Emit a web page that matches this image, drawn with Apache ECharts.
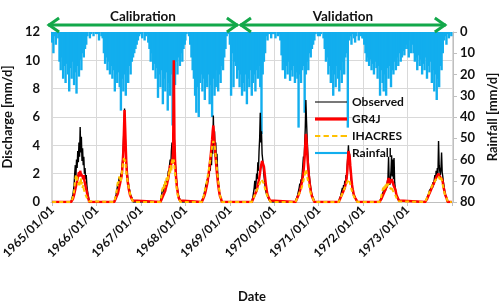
<!DOCTYPE html>
<html>
<head>
<meta charset="utf-8">
<script src="https://cdn.jsdelivr.net/npm/echarts@6/dist/echarts.min.js"></script>
<style>html,body{margin:0;padding:0;background:#fff}#c{width:500px;height:307px}</style>
</head>
<body>
<div id="c"></div>
<script>
// ---- Rainfall (mm/d), one value every 10 days from 1 Jan of each year ----
const rain1965 = [5,10,2,6,1,3,14,18,12,22,16,24,15,20,28,17,22,14,25,19,29,16,21,13,18,10,12,8,6,2,0,3,1,0,2,0,1];
const rain1966 = [0,1,4,0,2,3,10,15,12,18,14,20,16,22,18,28,20,24,19,26,37,22,28,20,30,18,24,16,20,14,12,10,8,6,4,2,1];
const rain1967 = [1,3,0,4,2,1,5,8,14,10,18,15,22,17,31,20,26,18,34,22,28,19,37,24,30,20,44,18,25,14,20,12,16,10,14,8,6];
const rain1968 = [4,1,0,2,6,12,18,22,30,38,26,40,24,20,28,22,32,24,26,20,34,25,40,22,30,26,18,28,20,24,16,18,12,8,2,0,1];
const rain1969 = [6,30,10,26,14,16,22,18,26,20,30,24,28,20,34,22,26,18,30,24,20,28,18,22,16,26,48,20,14,10,2,4,1,0,3,1,0];
const rain1970 = [1,3,0,2,1,4,11,18,14,22,16,20,14,23,18,21,16,24,19,22,45,20,24,18,16,38,20,14,18,10,12,8,6,4,1,0,2];
const rain1971 = [0,2,1,0,3,8,14,12,20,16,24,18,30,20,26,16,22,28,18,24,14,20,12,10,45,4,2,6,1,3,5,2,0,4,1,2,3];
const rain1972 = [3,6,10,14,12,16,13,18,15,20,14,17,22,16,30,18,24,28,20,30,17,22,16,26,18,20,14,18,12,16,10,14,12,9,11,8,6];
const rain1973 = [8,12,4,10,6,10,14,12,18,11,16,13,20,15,18,12,22,16,19,14,24,18,28,20,32,22,26,16,18,10,4,2,6,1,3,0,2];
const rainYears = [rain1965,rain1966,rain1967,rain1968,rain1969,rain1970,rain1971,rain1972,rain1973];

// ---- Discharge (mm/d): wet-season windows, one value every 5 days from the window start ----
const years = [1965,1966,1967,1968,1969,1970,1971,1972,1973];
const windowStartDay = [160,150,165,140,185,180,170,140,150];

const obs1965 = [0.2,0.3,0.5,0.8,1.2,2.0,2.6,1.8,3.0,2.4,3.6,2.8,4.2,3.2,5.3,3.5,4.6,2.9,3.8,2.6,3.2,2.0,2.4,1.6,1.9,1.2,0.8,0.5,0.3];
const obs1966 = [0.2,0.3,0.5,0.8,1.0,1.4,1.2,1.7,1.3,1.6,2.0,1.8,2.6,3.0,4.0,5.2,6.6,4.8,3.6,2.8,2.2,1.8,1.4,1.1,0.9,0.7,0.5,0.4,0.3,0.2];
const obs1967 = [0.3,0.5,0.8,1.0,0.7,1.2,0.9,1.4,1.1,1.6,1.3,1.8,2.2,1.9,2.6,3.0,2.4,3.6,4.2,3.4,4.9,3.8,4.4,3.0,2.4,1.8,1.3,0.9,0.6,0.4,0.3,0.2];
const obs1968 = [0.2,0.3,0.4,0.6,0.8,1.0,1.3,1.1,1.6,1.4,2.0,1.8,2.8,2.2,3.5,2.6,4.2,3.4,6.1,4.0,5.0,3.2,4.2,2.8,3.4,2.2,1.6,1.1,0.7,0.5,0.3,0.2];
const obs1969 = [0.2,0.4,0.7,1.0,1.5,0.9,1.3,2.0,1.6,2.8,2.2,3.6,4.5,6.3,4.2,5.0,3.4,3.0,2.4,1.9,1.5,1.1,0.8,0.6,0.5,0.4,0.3,0.2,0.15,0.1];
const obs1970 = [0.2,0.3,0.4,0.6,0.8,1.0,1.3,1.1,1.6,1.4,2.0,2.6,3.2,2.8,4.0,5.2,7.2,5.8,4.6,3.6,2.8,2.2,1.7,1.3,1.0,0.7,0.5,0.4,0.3,0.2];
const obs1971 = [0.2,0.3,0.4,0.6,0.8,1.0,0.8,1.2,1.0,1.5,1.3,1.9,1.6,2.6,3.2,4.0,3.0,3.4,2.4,1.8,1.4,1.1,0.8,0.6,0.5,0.4,0.3,0.2,0.15,0.1];
const obs1972 = [0.1,0.2,0.3,0.4,0.6,0.5,0.8,0.7,1.0,0.8,1.2,1.0,1.4,1.7,3.2,1.5,1.2,1.6,2.2,3.3,1.8,3.0,1.6,3.1,1.4,1.0,0.7,0.5,0.4,0.3,0.2,0.1];
const obs1973 = [0.1,0.2,0.3,0.4,0.5,0.6,0.8,0.7,0.9,1.0,1.2,1.0,1.4,1.2,1.6,1.9,1.5,2.2,1.8,2.4,2.0,4.3,2.6,2.2,1.9,2.4,3.5,2.1,1.8,1.4,1.1,0.8,0.6,0.4,0.3,0.2];

const gr1965 = [0.05,0.1,0.2,0.3,0.5,0.7,0.9,1.1,1.3,1.5,1.7,1.9,2.1,1.8,2.2,2.0,1.9,2.1,1.8,1.6,1.9,1.5,1.3,1.1,0.9,0.7,0.5,0.3,0.2];
const gr1966 = [0.1,0.2,0.3,0.4,0.5,0.6,0.8,1.0,1.2,1.4,1.6,1.8,2.2,2.8,3.6,5.0,6.5,5.2,3.8,2.6,2.0,1.5,1.2,0.9,0.7,0.5,0.4,0.3,0.2,0.1];
const gr1967 = [0.1,0.2,0.3,0.4,0.5,0.6,0.7,0.8,1.0,1.1,1.3,1.5,1.7,2.0,2.3,2.6,2.4,2.8,3.0,2.7,4.0,10.0,4.5,3.0,2.2,1.6,1.1,0.8,0.5,0.3,0.2,0.1];
const gr1968 = [0.1,0.2,0.3,0.4,0.5,0.7,0.9,1.1,1.3,1.6,1.9,2.2,2.6,3.0,3.4,3.9,4.4,5.0,5.4,4.8,4.2,3.6,3.0,2.5,2.0,1.6,1.2,0.9,0.6,0.4,0.3,0.2];
const gr1969 = [0.1,0.2,0.3,0.4,0.5,0.6,0.7,0.8,1.0,1.2,1.4,1.6,1.9,2.2,2.5,2.7,2.9,3.0,2.8,2.5,2.1,1.7,1.3,1.0,0.7,0.5,0.4,0.3,0.2,0.1];
const gr1970 = [0.1,0.2,0.3,0.4,0.5,0.6,0.7,0.9,1.1,1.3,1.5,1.8,2.1,2.6,3.2,4.0,4.8,4.4,3.6,2.9,2.3,1.8,1.4,1.1,0.8,0.6,0.4,0.3,0.2,0.1];
const gr1971 = [0.1,0.2,0.3,0.4,0.5,0.6,0.7,0.8,0.9,1.0,1.2,1.4,1.7,2.1,2.8,3.6,3.7,3.2,2.6,2.1,1.6,1.2,0.9,0.7,0.5,0.4,0.3,0.2,0.15,0.1];
const gr1972 = [0.05,0.1,0.2,0.3,0.4,0.5,0.6,0.7,0.8,0.9,1.0,1.1,1.3,1.5,1.7,1.5,1.3,1.2,1.4,1.6,1.5,1.4,1.2,1.3,1.1,0.9,0.7,0.5,0.4,0.3,0.2,0.1];
const gr1973 = [0.05,0.1,0.2,0.3,0.4,0.5,0.6,0.7,0.8,0.9,1.0,1.1,1.2,1.3,1.4,1.5,1.6,1.7,1.8,1.8,1.9,2.0,1.9,1.8,1.7,1.8,1.9,1.6,1.4,1.1,0.9,0.7,0.5,0.4,0.3,0.2];

const ih1965 = [0.1,0.2,0.3,0.5,0.8,1.2,1.6,1.9,1.5,1.8,1.4,1.2,1.5,1.1,1.3,1.7,1.2,1.4,1.0,1.2,0.9,0.8,0.6,0.5,0.4,0.3,0.2,0.1,0.05];
const ih1966 = [0.2,0.3,0.5,0.8,1.1,1.5,1.3,1.8,1.5,1.7,1.4,1.9,2.2,2.6,2.9,3.1,2.8,3.0,2.5,2.1,1.8,1.5,1.2,1.0,0.8,0.6,0.4,0.3,0.2,0.1];
const ih1967 = [0.3,0.5,0.8,1.1,0.9,1.3,1.0,1.5,1.2,1.7,1.4,1.9,1.6,2.1,2.4,2.0,2.6,2.2,2.8,3.1,2.7,3.0,2.5,2.0,1.6,1.2,0.9,0.6,0.4,0.3,0.2,0.1];
const ih1968 = [0.2,0.3,0.4,0.6,0.8,1.0,1.2,1.4,1.6,1.9,2.1,2.4,2.7,3.0,3.3,3.6,3.9,4.1,4.3,4.4,4.0,3.7,3.2,2.8,2.3,1.9,1.5,1.1,0.8,0.5,0.3,0.2];
const ih1969 = [0.1,0.2,0.3,0.4,0.5,0.6,0.7,0.8,0.9,1.0,1.1,1.2,1.3,1.4,1.5,1.6,1.5,1.6,1.5,1.3,1.1,0.9,0.7,0.6,0.5,0.4,0.3,0.2,0.15,0.1];
const ih1970 = [0.1,0.2,0.3,0.4,0.5,0.6,0.7,0.8,0.9,1.0,1.1,1.3,1.5,1.7,1.9,2.1,2.3,2.1,1.8,1.6,1.4,1.2,1.0,0.8,0.6,0.5,0.4,0.3,0.2,0.1];
const ih1971 = [0.1,0.2,0.3,0.4,0.5,0.6,0.7,0.8,0.9,1.0,1.1,1.2,1.3,1.4,1.5,1.6,1.5,1.4,1.3,1.1,0.9,0.8,0.6,0.5,0.4,0.3,0.2,0.2,0.1,0.1];
const ih1972 = [0.1,0.2,0.4,0.6,0.8,1.0,0.8,1.1,0.9,1.2,1.0,1.3,1.1,1.2,1.3,1.1,1.0,1.2,0.9,1.1,1.0,0.8,0.9,0.7,0.6,0.5,0.4,0.3,0.2,0.15,0.1,0.05];
const ih1973 = [0.1,0.2,0.3,0.4,0.5,0.6,0.7,0.8,0.9,1.0,1.1,1.2,1.3,1.2,1.4,1.5,1.3,1.6,1.5,1.7,1.6,1.8,1.7,1.6,1.8,1.7,1.6,1.4,1.2,1.0,0.8,0.6,0.5,0.4,0.3,0.2];

const obsYears = [obs1965,obs1966,obs1967,obs1968,obs1969,obs1970,obs1971,obs1972,obs1973];
const grYears = [gr1965,gr1966,gr1967,gr1968,gr1969,gr1970,gr1971,gr1972,gr1973];
const ihYears = [ih1965,ih1966,ih1967,ih1968,ih1969,ih1970,ih1971,ih1972,ih1973];

const periods = [
  {label:'Calibration', from:'1964-11-28', to:'1969-03-08'},
  {label:'Validation', from:'1969-03-25', to:'1973-11-12'}
];
const xMin = '1965-01-01', xMax = '1973-12-31';
const lastLabelYear = 1973;

// ---- build data ----
const DAY = 86400000;
function yearStart(y){ return new Date(y,0,1).getTime(); }
function buildRain(){
  const out=[];
  rainYears.forEach((arr,yi)=>{ arr.forEach((v,i)=>out.push([yearStart(years[yi])+i*10*DAY, v])); });
  return out;
}
function buildQ(list){
  const out=[[new Date(1965,0,1).getTime(),0]];
  list.forEach((arr,yi)=>{
    const s = yearStart(years[yi]) + windowStartDay[yi]*DAY;
    out.push([s-5*DAY,0]);
    arr.forEach((v,k)=>out.push([s+k*5*DAY, v]));
    out.push([s+arr.length*5*DAY,0]);
  });
  out.push([new Date(1973,11,31).getTime(),0]);
  return out;
}
function pad(n){ return (n<10?'0':'')+n; }
function fmtDate(v){
  const d = new Date(v);
  if (d.getFullYear() > lastLabelYear) return '';
  return d.getFullYear()+'/'+pad(d.getMonth()+1)+'/'+pad(d.getDate());
}

const FONT = 'Lato';
const chart = echarts.init(document.getElementById('c'), null, {renderer:'canvas'});
const option = {
  backgroundColor:'#fff',
  animation:false,
  grid:{left:51, right:47, top:32, bottom:105, outerBoundsMode:'none', containLabel:false},
  legend:{
    orient:'vertical', left:310, top:91, itemGap:5, itemWidth:32, itemHeight:12,
    textStyle:{fontFamily:FONT, fontWeight:'bold', fontSize:12, color:'#111'},
    data:[
      {name:'Observed', icon:'path://M0,0 H30 V1 H0 Z'},
      {name:'GR4J', icon:'path://M0,0 H30 V3 H0 Z'},
      {name:'IHACRES', icon:'path://M0,0 H5 V2 H0 Z M8,0 H13 V2 H8 Z M16,0 H21 V2 H16 Z M24,0 H30 V2 H24 Z'},
      {name:'Rainfall', icon:'path://M0,0 H30 V2 H0 Z'}
    ]
  },
  xAxis:{
    type:'time', min:xMin, max:xMax,
    minInterval:365*DAY, maxInterval:366*DAY,
    name:'Date', nameLocation:'middle', nameGap:88,
    nameTextStyle:{fontFamily:FONT, fontWeight:'bold', fontSize:13, color:'#111'},
    axisLine:{show:true, lineStyle:{color:'#bfbfbf'}},
    axisTick:{show:true, length:4, lineStyle:{color:'#bfbfbf'}},
    splitLine:{show:true, lineStyle:{color:'#d9d9d9'}},
    axisLabel:{rotate:45, formatter:fmtDate, fontFamily:FONT, fontWeight:'bold', fontSize:12, color:'#111', margin:6, hideOverlap:false}
  },
  yAxis:[
    {type:'value', min:0, max:12, interval:2,
     name:'Discharge [mm/d]', nameLocation:'middle', nameGap:34, nameRotate:90,
     nameTextStyle:{fontFamily:FONT, fontWeight:'bold', fontSize:13, color:'#111'},
     axisLine:{show:true, lineStyle:{color:'#d9d9d9'}}, axisTick:{show:false},
     splitLine:{show:true, lineStyle:{color:'#d9d9d9'}},
     axisLabel:{fontFamily:FONT, fontWeight:'bold', fontSize:13, color:'#111', margin:11}},
    {type:'value', min:0, max:80, interval:10, inverse:true, position:'right',
     name:'Rainfall [mm/d]', nameLocation:'middle', nameGap:33, nameRotate:90,
     nameTextStyle:{fontFamily:FONT, fontWeight:'bold', fontSize:13, color:'#111'},
     axisLine:{show:true, lineStyle:{color:'#bfbfbf'}}, axisTick:{show:true, length:4, lineStyle:{color:'#bfbfbf'}},
     splitLine:{show:false},
     axisLabel:{fontFamily:FONT, fontWeight:'bold', fontSize:13, color:'#111', margin:7}}
  ],
  series:[
    {name:'Rainfall', type:'bar', yAxisIndex:1, data:buildRain(), barWidth:2.4, z:1,
     itemStyle:{color:'#12AEEE'}},
    {name:'Observed', type:'line', yAxisIndex:0, data:buildQ(obsYears), symbol:'none', z:3,
     lineStyle:{color:'#000', width:1.4}, itemStyle:{color:'#000'}},
    {name:'GR4J', type:'line', yAxisIndex:0, data:buildQ(grYears), symbol:'none', z:4,
     lineStyle:{color:'#FF0000', width:2.5}, itemStyle:{color:'#FF0000'}},
    {name:'IHACRES', type:'line', yAxisIndex:0, data:buildQ(ihYears), symbol:'none', z:5,
     lineStyle:{color:'#FFC000', width:2, type:[4,3]}, itemStyle:{color:'#FFC000'}}
  ]
};
chart.setOption(option);

// period annotations (arrows above the plot)
const GREEN = '#13A84A';
const g = [];
periods.forEach(p=>{
  const x1 = chart.convertToPixel({xAxisIndex:0}, new Date(p.from).getTime());
  const x2 = chart.convertToPixel({xAxisIndex:0}, new Date(p.to).getTime());
  const y = 25;
  g.push({type:'polyline', shape:{points:[[x1,y],[x2,y]]}, style:{stroke:GREEN, lineWidth:3}, z:10});
  g.push({type:'polyline', shape:{points:[[x1+11,y-7],[x1+1,y],[x1+11,y+7]]}, style:{stroke:GREEN, lineWidth:3, fill:null}, z:10});
  g.push({type:'polyline', shape:{points:[[x2-11,y-7],[x2-1,y],[x2-11,y+7]]}, style:{stroke:GREEN, lineWidth:3, fill:null}, z:10});
  g.push({type:'text', x:(x1+x2)/2, y:17, style:{text:p.label, fontFamily:FONT, fontWeight:'bold', fontSize:13.5, fill:'#111', align:'center', verticalAlign:'middle'}, z:11});
});
chart.setOption({graphic:g});
</script>
</body>
</html>
